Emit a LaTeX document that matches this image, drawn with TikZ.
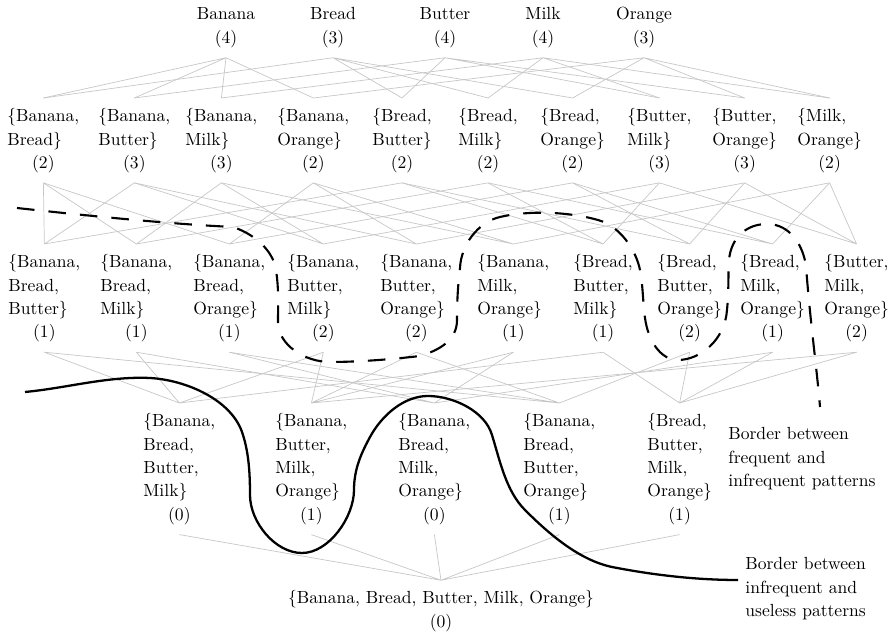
\documentclass[tikz,border=0pt]{standalone}
\usepackage{tikz}

\newcommand{\iset}[3][l]{\begin{tabular}{@{}#1@{}}#2\\\multicolumn{1}{@{}c@{}}{(#3)}\end{tabular}}

\tikzset{
  itemset/.style={inner sep=4pt, font=\fontsize{10}{13.3}\selectfont},
  setnw/.style={itemset, anchor=north west},
  edge/.style={draw=black!22, line width=0.4pt},
  border/.style={line width=1.3pt},
  freqborder/.style={line width=1.2pt, dash pattern=on 10pt off 8pt}
}

\begin{document}
\begin{tikzpicture}[x=0.02cm, y=-0.02cm]
	\useasboundingbox (0,0) rectangle (890,634);

	% single items
	\node[itemset] (ban) at (226,27) {\iset[c]{Banana}{4}};
	\node[itemset] (bre) at (333,27) {\iset[c]{Bread}{3}};
	\node[itemset] (but) at (445,27) {\iset[c]{Butter}{4}};
	\node[itemset] (mil) at (543,27) {\iset[c]{Milk}{4}};
	\node[itemset] (ora) at (644,27) {\iset[c]{Orange}{3}};

	% pairs
	\node[setnw] (p1) at (0,98) {\iset{\{Banana,\\Bread\}}{2}};
	\node[setnw] (p2) at (91,98) {\iset{\{Banana,\\Butter\}}{3}};
	\node[setnw] (p3) at (178,98) {\iset{\{Banana,\\Milk\}}{3}};
	\node[setnw] (p4) at (270,98) {\iset{\{Banana,\\Orange\}}{2}};
	\node[setnw] (p5) at (365,98) {\iset{\{Bread,\\Butter\}}{2}};
	\node[setnw] (p6) at (451,98) {\iset{\{Bread,\\Milk\}}{2}};
	\node[setnw] (p7) at (533,98) {\iset{\{Bread,\\Orange\}}{2}};
	\node[setnw] (p8) at (620,98) {\iset{\{Butter,\\Milk\}}{3}};
	\node[setnw] (p9) at (705,98) {\iset{\{Butter,\\Orange\}}{3}};
	\node[setnw] (p10) at (790,98) {\iset{\{Milk,\\Orange\}}{2}};

	% triples
	\node[setnw] (t1) at (1,244) {\iset{\{Banana,\\Bread,\\Butter\}}{1}};
	\node[setnw] (t2) at (93,244) {\iset{\{Banana,\\Bread,\\Milk\}}{1}};
	\node[setnw] (t3) at (186,244) {\iset{\{Banana,\\Bread,\\Orange\}}{1}};
	\node[setnw] (t4) at (280,244) {\iset{\{Banana,\\Butter,\\Milk\}}{2}};
	\node[setnw] (t5) at (373,244) {\iset{\{Banana,\\Butter,\\Orange\}}{2}};
	\node[setnw] (t6) at (470,244) {\iset{\{Banana,\\Milk,\\Orange\}}{1}};
	\node[setnw] (t7) at (566,244) {\iset{\{Bread,\\Butter,\\Milk\}}{1}};
	\node[setnw] (t8) at (650,244) {\iset{\{Bread,\\Butter,\\Orange\}}{2}};
	\node[setnw] (t9) at (733,244) {\iset{\{Bread,\\Milk,\\Orange\}}{1}};
	\node[setnw] (t10) at (817,244) {\iset{\{Butter,\\Milk,\\Orange\}}{2}};

	% quadruples
	\node[setnw] (q1) at (136,403) {\iset{\{Banana,\\Bread,\\Butter,\\Milk\}}{0}};
	\node[setnw] (q2) at (268,403) {\iset{\{Banana,\\Butter,\\Milk,\\Orange\}}{1}};
	\node[setnw] (q3) at (391,403) {\iset{\{Banana,\\Bread,\\Milk,\\Orange\}}{0}};
	\node[setnw] (q4) at (516,403) {\iset{\{Banana,\\Bread,\\Butter,\\Orange\}}{1}};
	\node[setnw] (q5) at (640,403) {\iset{\{Bread,\\Butter,\\Milk,\\Orange\}}{1}};

	% all five
	\node[itemset] (all) at (441,611) {\iset[c]{\{Banana, Bread, Butter, Milk, Orange\}}{0}};

	% labels
	\node[setnw] (lblfreq) at (721,416) {\begin{tabular}{@{}l@{}}Border between\\frequent and\\infrequent patterns\end{tabular}};
	\node[setnw] (lbluse) at (738,546) {\begin{tabular}{@{}l@{}}Border between\\infrequent and\\useless patterns\end{tabular}};

	% singles to pairs
	\draw[edge] (ban.south) -- (p1.north) (ban.south) -- (p2.north) (ban.south) -- (p3.north) (ban.south) -- (p4.north);
	\draw[edge] (bre.south) -- (p1.north) (bre.south) -- (p5.north) (bre.south) -- (p6.north) (bre.south) -- (p7.north);
	\draw[edge] (but.south) -- (p2.north) (but.south) -- (p5.north) (but.south) -- (p8.north) (but.south) -- (p9.north);
	\draw[edge] (mil.south) -- (p3.north) (mil.south) -- (p6.north) (mil.south) -- (p8.north) (mil.south) -- (p10.north);
	\draw[edge] (ora.south) -- (p4.north) (ora.south) -- (p7.north) (ora.south) -- (p9.north) (ora.south) -- (p10.north);

	% pairs to triples
	\draw[edge] (t1.north) -- (p1.south) (t1.north) -- (p2.south) (t1.north) -- (p5.south);
	\draw[edge] (t2.north) -- (p1.south) (t2.north) -- (p3.south) (t2.north) -- (p6.south);
	\draw[edge] (t3.north) -- (p1.south) (t3.north) -- (p4.south) (t3.north) -- (p7.south);
	\draw[edge] (t4.north) -- (p2.south) (t4.north) -- (p3.south) (t4.north) -- (p8.south);
	\draw[edge] (t5.north) -- (p2.south) (t5.north) -- (p4.south) (t5.north) -- (p9.south);
	\draw[edge] (t6.north) -- (p3.south) (t6.north) -- (p4.south) (t6.north) -- (p10.south);
	\draw[edge] (t7.north) -- (p5.south) (t7.north) -- (p6.south) (t7.north) -- (p8.south);
	\draw[edge] (t8.north) -- (p5.south) (t8.north) -- (p7.south) (t8.north) -- (p9.south);
	\draw[edge] (t9.north) -- (p6.south) (t9.north) -- (p7.south) (t9.north) -- (p10.south);
	\draw[edge] (t10.north) -- (p8.south) (t10.north) -- (p9.south) (t10.north) -- (p10.south);

	% triples to quadruples
	\draw[edge] (q1.north) -- (t1.south) (q1.north) -- (t2.south) (q1.north) -- (t4.south) (q1.north) -- (t7.south);
	\draw[edge] (q2.north) -- (t4.south) (q2.north) -- (t5.south) (q2.north) -- (t6.south) (q2.north) -- (t10.south);
	\draw[edge] (q3.north) -- (t2.south) (q3.north) -- (t3.south) (q3.north) -- (t6.south) (q3.north) -- (t9.south);
	\draw[edge] (q4.north) -- (t1.south) (q4.north) -- (t3.south) (q4.north) -- (t5.south) (q4.north) -- (t8.south);
	\draw[edge] (q5.north) -- (t7.south) (q5.north) -- (t8.south) (q5.north) -- (t9.south) (q5.north) -- (t10.south);

	% quadruples to all
	\draw[edge] (all.north) -- (q1.south) (all.north) -- (q2.south) (all.north) -- (q3.south) (all.north) -- (q4.south) (all.north) -- (q5.south);

	% border frequent / infrequent
	\draw[freqborder] (17,208) .. controls (90,216) and (170,224) .. (233,227)
		.. controls (254,234) and (273,250) .. (276,270)
		.. controls (279,290) and (278,305) .. (278,322)
		.. controls (278,345) and (305,362) .. (330,362)
		.. controls (360,362) and (395,359) .. (420,356)
		.. controls (440,350) and (457,340) .. (457,320)
		.. controls (457,300) and (458,285) .. (460,268)
		.. controls (461,245) and (478,222) .. (500,217)
		.. controls (530,210) and (570,212) .. (598,220)
		.. controls (620,226) and (636,250) .. (640,270)
		.. controls (643,285) and (643,305) .. (645,318)
		.. controls (648,340) and (660,360) .. (678,360)
		.. controls (700,360) and (725,340) .. (727,310)
		.. controls (729,290) and (728,275) .. (729,260)
		.. controls (731,238) and (746,224) .. (767,224)
		.. controls (790,224) and (803,245) .. (806,266)
		.. controls (810,320) and (817,370) .. (820,407);

	% border infrequent / useless
	\draw[border] (25,392) .. controls (67,388) and (108,376) .. (150,378)
		.. controls (186,380) and (233,400) .. (243,435)
		.. controls (249,454) and (250,475) .. (250,495)
		.. controls (250,522) and (275,553) .. (302,553)
		.. controls (329,553) and (354,517) .. (354,490)
		.. controls (354,468) and (362,452) .. (370,437)
		.. controls (382,415) and (404,396) .. (428,396)
		.. controls (453,396) and (485,411) .. (492,435)
		.. controls (500,461) and (506,491) .. (525,510)
		.. controls (549,534) and (579,560) .. (612,567)
		.. controls (653,575) and (696,580) .. (738,580);
\end{tikzpicture}
\end{document}
